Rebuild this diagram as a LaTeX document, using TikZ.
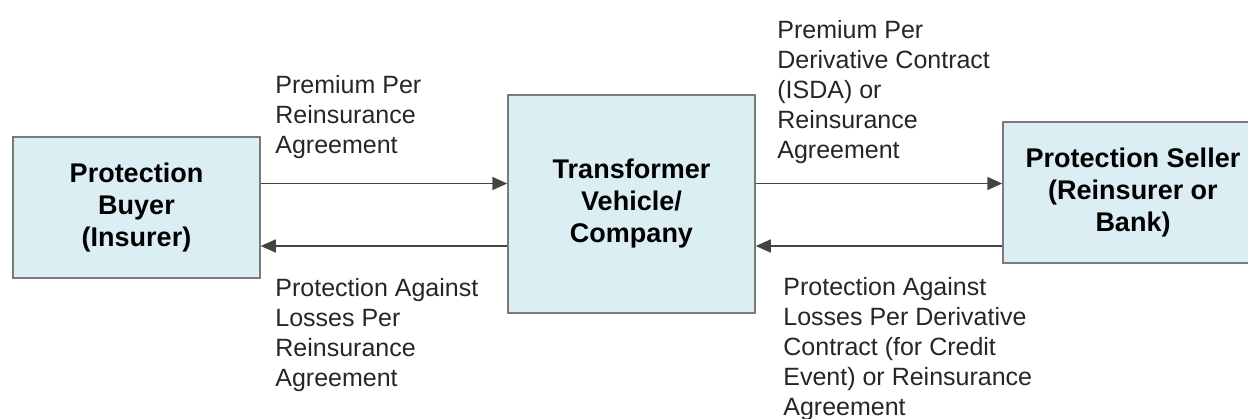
\documentclass[tikz,border=0pt]{standalone}
\usepackage{fontspec}
\setmainfont{Liberation Sans}
\usepackage{tikz}
\usetikzlibrary{arrows.meta,positioning,calc}
\definecolor{boxfill}{HTML}{DBEEF4}
\definecolor{boxline}{HTML}{7A7A7A}
\definecolor{flowline}{HTML}{444444}
\tikzset{
  party/.style={draw=boxline,line width=0.75pt,fill=boxfill,align=center,
    font=\fontsize{13.5}{16}\selectfont\bfseries,inner sep=0pt},
  flow/.style={draw=flowline,line width=0.8pt,-{Triangle[length=7.5pt,width=6.5pt]}},
  note/.style={anchor=north west,align=left,inner sep=0pt,text=black!85,
    font=\fontsize{12.5}{15}\selectfont}
}

\begin{document}
\begin{tikzpicture}[x=0.5pt,y=-0.5pt]
\useasboundingbox (0,0) rectangle (1248,418);
% the three parties
\node[party,minimum width=123.5pt,minimum height=70.5pt] (buyer) at (136.5,207.5) {Protection\\Buyer\\(Insurer)};
\node[party,minimum width=123.5pt,minimum height=109pt] (vehicle) at (631.5,204) {Transformer\\Vehicle/\\Company};
\node[party,minimum width=130pt,minimum height=70.5pt] (seller) at (1133,192.5) {Protection Seller\\(Reinsurer or\\Bank)};
% levels of the flows
\coordinate (prem) at (0,183.5);
\coordinate (prot) at (0,246);
\draw[flow] (buyer.east |- prem) -- (vehicle.west |- prem);
\draw[flow] (vehicle.west |- prot) -- (buyer.east |- prot);
\draw[flow] (vehicle.east |- prem) -- (seller.west |- prem);
\draw[flow] (seller.west |- prot) -- (vehicle.east |- prot);
% flow texts
\node[note] (premre) at (275,75) {Premium Per\\Reinsurance\\Agreement};
\node[note] (protre) at (275,278) {Protection Against\\Losses Per\\Reinsurance\\Agreement};
\node[note] (premder) at (777,20) {Premium Per\\Derivative Contract\\(ISDA) or\\Reinsurance\\Agreement};
\node[note] (protder) at (783,277) {Protection Against\\Losses Per Derivative\\Contract (for Credit\\Event) or Reinsurance\\Agreement};
\end{tikzpicture}
\end{document}
